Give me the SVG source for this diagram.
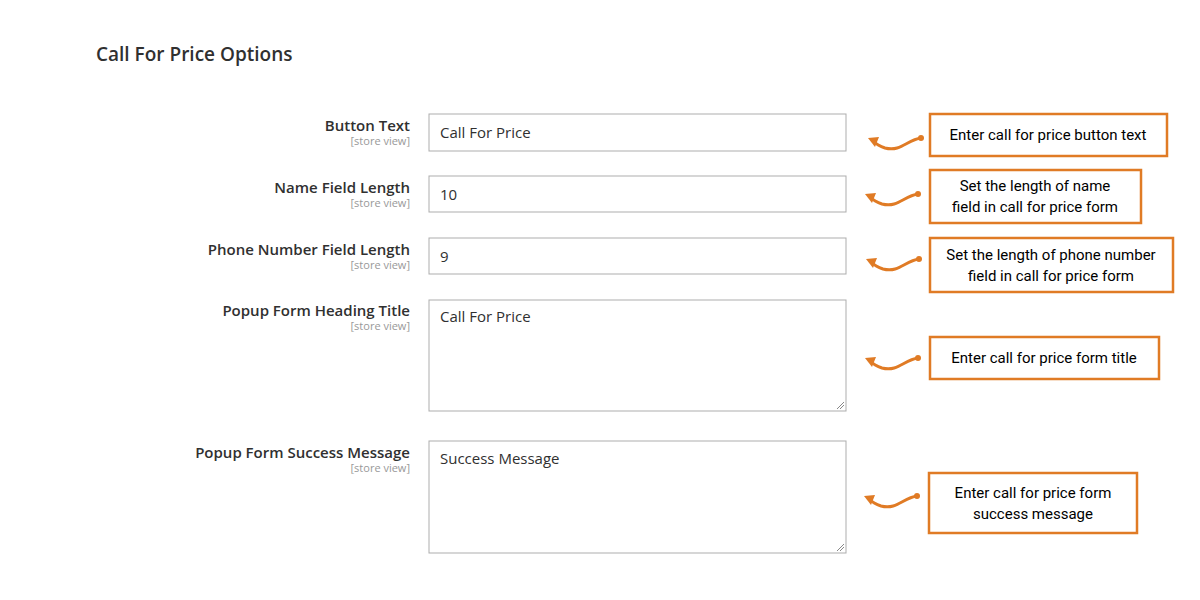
<svg xmlns="http://www.w3.org/2000/svg" width="1200" height="600" viewBox="0 0 1200 600">
<style>
.lbl{font-family:"Open Sans",sans-serif;font-size:15px;font-weight:600;fill:#303030;text-anchor:end}
.sv{font-family:"Open Sans",sans-serif;font-size:11px;fill:#999;text-anchor:end}
.inp{fill:#fff;stroke:#adadad;stroke-width:1}
.val{font-family:"Open Sans",sans-serif;font-size:15px;fill:#303030}
.note{fill:#fff;stroke:#e07b25;stroke-width:2.5}
.nt{font-family:Roboto,"Liberation Sans",sans-serif;font-size:15px;fill:#000;text-anchor:middle}
.arr{fill:none;stroke:#e07b25;stroke-width:3;stroke-linecap:round}
.hd{fill:#e07b25}
.rz{stroke:#888;stroke-width:1}
</style>
<defs>
<g id="arrow">
<path class="arr" d="M0,0 C-14,2 -20,14 -36,10 C-42,8 -45,6 -48,3"/>
<circle class="hd" cx="0" cy="0" r="3"/>
<path class="hd" d="M-53,0 L-42,-1 L-46,9 Z"/>
</g>
<g id="rz"><line class="rz" x1="-8" y1="-1" x2="-1" y2="-8"/><line class="rz" x1="-5" y1="-1" x2="-1" y2="-5"/></g>
</defs>
<rect width="1200" height="600" fill="#fff"/>
<text x="96" y="61" font-family="'Open Sans',sans-serif" font-size="19" font-weight="600" fill="#303030">Call For Price Options</text>

<g id="button-text">
<text class="lbl" x="410" y="131">Button Text</text><text class="sv" x="410" y="145">[store view]</text>
<rect class="inp" x="429" y="114" width="417" height="37"/><text class="val" x="440" y="138">Call For Price</text>
</g>
<g id="name-length">
<text class="lbl" x="410" y="193">Name Field Length</text><text class="sv" x="410" y="207">[store view]</text>
<rect class="inp" x="429" y="176" width="417" height="36"/><text class="val" x="440" y="200">10</text>
</g>
<g id="phone-length">
<text class="lbl" x="410" y="255">Phone Number Field Length</text><text class="sv" x="410" y="269">[store view]</text>
<rect class="inp" x="429" y="238" width="417" height="36"/><text class="val" x="440" y="262">9</text>
</g>
<g id="heading-title">
<text class="lbl" x="410" y="316">Popup Form Heading Title</text><text class="sv" x="410" y="330">[store view]</text>
<rect class="inp" x="429" y="300" width="417" height="111"/><text class="val" x="440" y="322">Call For Price</text>
<use href="#rz" x="845" y="410"/>
</g>
<g id="success-message">
<text class="lbl" x="410" y="458">Popup Form Success Message</text><text class="sv" x="410" y="472">[store view]</text>
<rect class="inp" x="429" y="441" width="417" height="112"/><text class="val" x="440" y="464">Success Message</text>
<use href="#rz" x="845" y="552"/>
</g>

<g id="note1"><rect class="note" x="930" y="114" width="237" height="42"/><text class="nt" x="1048" y="140">Enter call for price button text</text></g>
<g id="note2"><rect class="note" x="930" y="170" width="211" height="53"/><text class="nt" x="1035" y="191">Set the length of name</text><text class="nt" x="1035" y="212">field in call for price form</text></g>
<g id="note3"><rect class="note" x="930" y="238" width="243" height="54"/><text class="nt" x="1051" y="260">Set the length of phone number</text><text class="nt" x="1051" y="281">field in call for price form</text></g>
<g id="note4"><rect class="note" x="930" y="337" width="229" height="42"/><text class="nt" x="1044" y="363">Enter call for price form title</text></g>
<g id="note5"><rect class="note" x="929" y="473" width="208" height="60"/><text class="nt" x="1033" y="498">Enter call for price form</text><text class="nt" x="1033" y="519">success message</text></g>

<g id="connectors">
<use href="#arrow" x="921" y="138"/>
<use href="#arrow" x="918" y="194"/>
<use href="#arrow" x="919" y="259"/>
<use href="#arrow" x="918" y="358"/>
<use href="#arrow" x="917" y="496"/>
</g>
</svg>
